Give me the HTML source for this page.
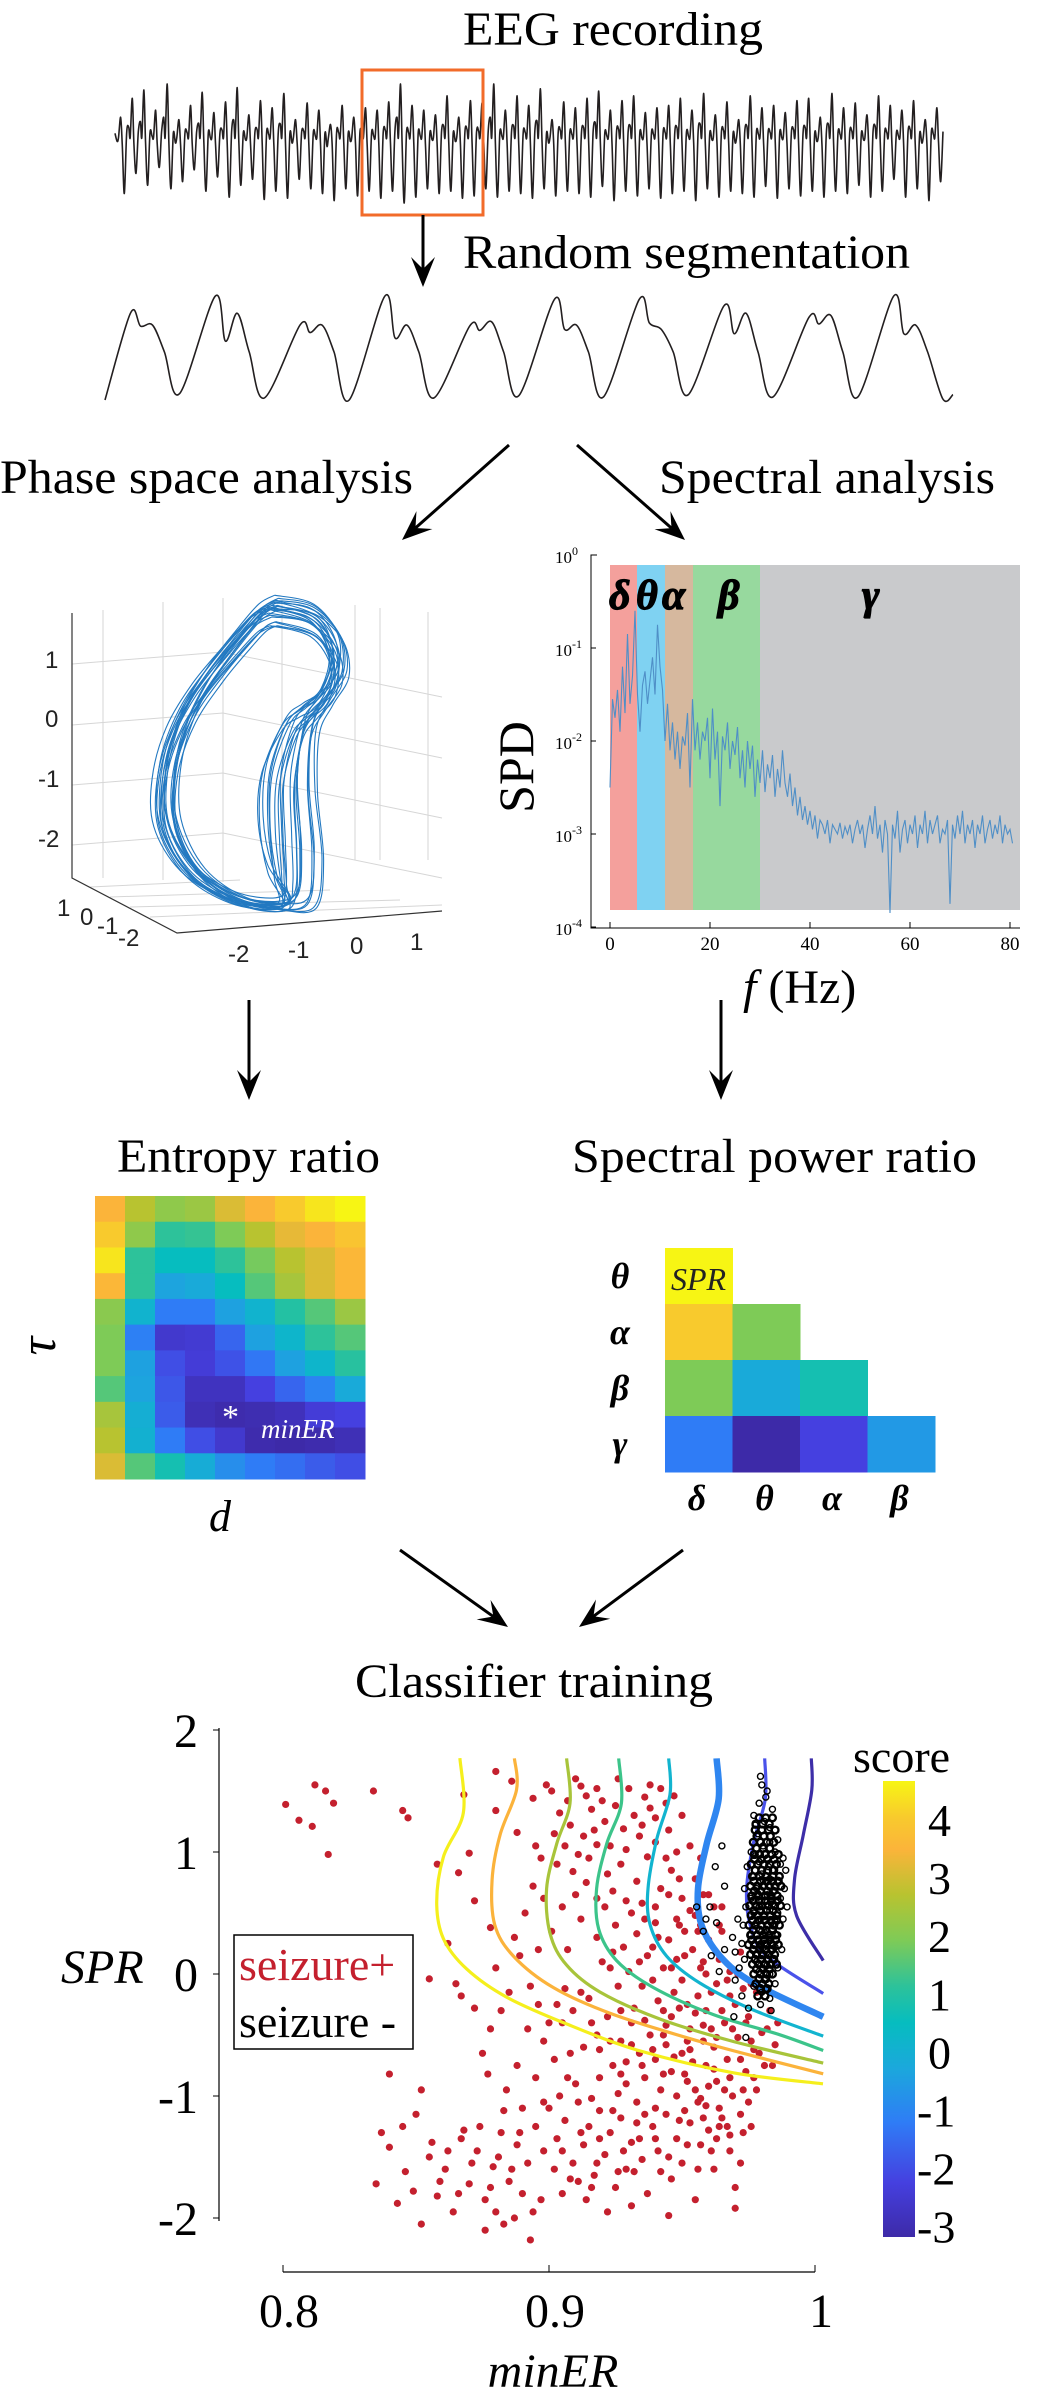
<!DOCTYPE html>
<html><head><meta charset="utf-8">
<style>
html,body{margin:0;padding:0;background:#fff;}
svg{display:block;font-family:"Liberation Serif",serif;}
</style></head>
<body>
<svg id="fig" width="1041" height="2401" viewBox="0 0 1041 2401" xmlns="http://www.w3.org/2000/svg">
<defs>
<linearGradient id="cbgrad" x1="0" y1="1" x2="0" y2="0">
<stop offset="0" stop-color="#3d2aa8"/><stop offset="0.12" stop-color="#4540e0"/><stop offset="0.25" stop-color="#2f7cf6"/><stop offset="0.37" stop-color="#1ba8dc"/><stop offset="0.47" stop-color="#06bdbf"/><stop offset="0.55" stop-color="#2dc29a"/><stop offset="0.65" stop-color="#7ecb57"/><stop offset="0.75" stop-color="#b8c330"/><stop offset="0.85" stop-color="#fbb43a"/><stop offset="0.92" stop-color="#f8ca2d"/><stop offset="1" stop-color="#f7f514"/>
</linearGradient>
</defs>

<text x="463" y="45" font-size="48" textLength="300" lengthAdjust="spacingAndGlyphs">EEG recording</text>
<g id="eeg"></g>
<rect x="362" y="70" width="121" height="145" fill="none" stroke="#f26b2a" stroke-width="3"/>
<text x="463" y="268" font-size="48" textLength="447" lengthAdjust="spacingAndGlyphs">Random segmentation</text>
<g id="seg"></g>
<text x="0" y="493" font-size="48" textLength="413" lengthAdjust="spacingAndGlyphs">Phase space analysis</text>
<text x="659" y="493" font-size="48" textLength="336" lengthAdjust="spacingAndGlyphs">Spectral analysis</text>

<g id="phase"></g>
<g id="spec"></g>

<text x="117" y="1172" font-size="48" textLength="263" lengthAdjust="spacingAndGlyphs">Entropy ratio</text>
<text x="572" y="1172" font-size="48" textLength="405" lengthAdjust="spacingAndGlyphs">Spectral power ratio</text>
<g id="er"></g>
<g id="spr"></g>

<text x="355" y="1697" font-size="48" textLength="358" lengthAdjust="spacingAndGlyphs">Classifier training</text>
<g id="cls"></g>
<g id="arrows"></g>
</svg>

<script>
// ===== DATA =====
const eegPeaks=[0.72,0.88,0.95,0.78,1.0,0.7,0.82,0.93,0.76,0.85,0.97,0.74,0.86,0.8,0.92,0.7,0.84,0.78,0.66,0.82,0.72,0.8,0.78,0.85,1.0,0.82,0.78,0.74,0.9,0.72,0.86,0.84,1.0,0.78,0.9,0.82,0.96,0.7,0.85,0.8,0.88,0.94,0.78,0.86,0.9,0.76,0.8,0.82,0.88,0.78,0.92,0.74,0.85,0.7,0.9,0.8,0.82,0.76,0.86,0.88,0.72,0.92,0.8,0.84,0.74,0.9,0.82,0.78,0.86,0.7,0.8];
const eegTroughs=[0.08,0.25,0.15,0.3,0.12,0.18,0.28,0.1,0.22,0.05,0.15,0.2,0.03,0.1,0.04,0.2,0.12,0.08,0.02,0.12,0.06,0.1,0.04,0.1,0.0,0.05,0.12,0.08,0.1,0.04,0.06,0.12,0.05,0.1,0.08,0.04,0.12,0.06,0.1,0.08,0.05,0.14,0.02,0.1,0.06,0.12,0.04,0.08,0.1,0.02,0.12,0.05,0.1,0.08,0.05,0.14,0.04,0.12,0.06,0.1,0.05,0.1,0.08,0.15,0.05,0.1,0.2,0.05,0.12,0.02,0.18];
const segPeak1=[0.81,0.97,0.70,0.97,0.69,0.94,0.94,0.88,0.77,0.97];
const segDip=[0.69,0.55,0.63,0.58,0.65,0.66,0.72,0.62,0.71,0.62];
const segPeak2=[0.70,0.81,0.70,0.70,0.73,0.70,0.66,0.81,0.79,0.70];
const segTrough=[0.06,0.02,0.0,0.02,0.04,0.03,0.05,0.03,0.03,0.01];

const spdStep=0.5;
const spdLog=[-2.5,-1.55,-1.75,-1.45,-1.9,-1.2,-1.7,-0.85,-1.6,-1.3,-0.6,-1.5,-1.9,-1.4,-1.25,-1.6,-1.35,-1.1,-1.5,-0.75,-1.2,-1.45,-2.0,-1.6,-2.1,-1.8,-2.2,-1.9,-2.3,-1.95,-2.05,-1.7,-2.5,-1.55,-2.1,-1.8,-2.2,-1.9,-2.0,-1.75,-2.4,-1.65,-2.2,-1.9,-2.7,-1.95,-2.1,-1.8,-2.3,-2.0,-2.15,-1.85,-2.4,-2.1,-2.5,-2.0,-2.3,-2.05,-2.6,-2.2,-2.45,-2.1,-2.55,-2.25,-2.4,-2.15,-2.6,-2.3,-2.5,-2.1,-2.45,-2.6,-2.35,-2.7,-2.5,-2.8,-2.6,-2.85,-2.7,-2.9,-2.75,-2.95,-2.8,-3.05,-2.85,-2.9,-3.0,-2.85,-3.1,-2.9,-2.95,-3.0,-2.88,-3.05,-2.92,-3.0,-2.9,-3.1,-2.95,-2.85,-3.0,-2.9,-3.15,-2.95,-2.8,-3.0,-2.7,-3.05,-2.9,-3.2,-2.85,-3.0,-3.85,-2.9,-3.05,-2.75,-3.2,-2.95,-2.85,-3.1,-2.9,-3.0,-2.8,-3.15,-2.9,-3.0,-2.75,-3.1,-2.85,-3.0,-2.9,-2.8,-3.1,-2.95,-3.0,-2.85,-3.75,-2.9,-3.05,-2.8,-3.0,-2.75,-3.1,-2.9,-3.0,-2.85,-3.15,-2.9,-3.0,-2.8,-3.1,-2.95,-2.85,-3.05,-2.9,-3.0,-2.8,-3.1,-2.9,-3.0,-2.95,-3.1];
const bandEdges=[0,5.4,11,16.6,30,82];
const bandColors=["#f4a09c","#7fd2f2","#d6b89e","#97d99e","#c9cacc"];
const bandLabels=["δ","θ","α","β","γ"];
const specYTicks=[0,-1,-2,-3,-4];
const specXTicks=[0,20,40,60,80];

const erValues=[
[.85,.75,.68,.70,.80,.85,.92,.97,1.0],
[.92,.68,.55,.56,.65,.75,.82,.85,.90],
[.97,.55,.47,.47,.55,.64,.75,.80,.86],
[.86,.55,.36,.38,.47,.60,.72,.80,.86],
[.67,.42,.25,.25,.35,.42,.53,.60,.70],
[.65,.26,.08,.09,.20,.35,.43,.55,.60],
[.65,.35,.15,.10,.16,.24,.35,.43,.54],
[.60,.36,.17,.05,.05,.12,.20,.27,.38],
[.72,.40,.18,.03,.01,.02,.04,.10,.12],
[.75,.41,.25,.15,.08,.01,.00,.01,.03],
[.80,.60,.50,.39,.30,.25,.22,.18,.15]];
const sprRows=["θ","α","β","γ"];
const sprCols=["δ","θ","α","β"];
const sprValues=[[1.0],[.92,.65],[.65,.38,.5],[.25,0,.12,.33]];

const contourLevels=[4,3,2,1,0,-1,-2,-3];
const contourColors=["#f5ef1c","#fbb33b","#a8c43a","#3cc48a","#12b4cf","#2f86f0","#4a52ea","#3d2ea8"];
const contourER=[
[0.8665,0.8678,0.8603,0.8578,0.8603,0.8691,0.8841,0.9067,0.9342,0.9693,1.003],
[0.887,0.8878,0.8816,0.8786,0.8796,0.8866,0.9016,0.9242,0.9567,0.9818,1.0031],
[0.9066,0.9079,0.9029,0.8991,0.9004,0.9066,0.9192,0.9417,0.9693,1.0031],
[0.9262,0.9272,0.9217,0.9179,0.9187,0.9254,0.9392,0.9617,0.9868,1.0031],
[0.945,0.9455,0.9405,0.9372,0.938,0.9442,0.9567,0.9768,1.0031],
[0.963,0.9638,0.9593,0.956,0.9573,0.9643,0.9768,1.0031],
[0.9811,0.9813,0.9768,0.9743,0.9756,0.9818,1.0031],
[0.9986,0.9988,0.9956,0.9923,0.9931,1.0031]];
const contourSPR=[
[1.77,1.32,0.96,0.59,0.29,0.04,-0.19,-0.41,-0.63,-0.81,-0.90],
[1.767,1.509,1.141,0.773,0.404,0.147,-0.111,-0.332,-0.553,-0.700,-0.818],
[1.767,1.399,1.067,0.699,0.331,0.073,-0.148,-0.369,-0.553,-0.730],
[1.767,1.399,1.067,0.699,0.368,0.110,-0.111,-0.332,-0.498,-0.627],
[1.767,1.472,1.104,0.699,0.404,0.147,-0.074,-0.295,-0.509],
[1.767,1.436,1.067,0.699,0.404,0.147,-0.074,-0.351],
[1.767,1.436,1.067,0.699,0.404,0.147,-0.16],
[1.767,1.509,1.141,0.773,0.478,0.11]];

const seizurePos=[[0.801,1.39],[0.806,1.26],[0.811,1.21],[0.812,1.55],[0.816,1.5],[0.819,1.40],[0.817,0.98],[0.834,1.50],[0.845,1.34],[0.847,1.28],
[0.880,1.66],[0.886,1.58],[0.868,1.47],[0.880,1.34],[0.888,1.16],[0.895,1.05],[0.894,1.44],[0.899,1.55],[0.901,1.50],[0.904,1.32],[0.907,1.42],[0.908,1.22],[0.912,1.54],[0.914,1.46],[0.913,1.13],[0.916,1.35],[0.918,1.06],[0.920,1.42],[0.921,1.25],[0.925,1.38],[0.928,1.19],[0.930,1.52],[0.932,1.30],[0.934,1.13],[0.936,1.45],[0.938,1.36],[0.940,1.28],[0.942,1.52],[0.944,1.40],[0.947,1.46],[0.903,0.90],[0.897,0.95],[0.909,0.84],[0.915,0.95],[0.922,0.82],[0.927,0.90],[0.933,0.76],[0.937,0.96],[0.942,0.70],[0.946,0.85],[0.950,0.62],[0.955,0.78],[0.958,0.65],[0.962,0.55],[0.894,0.72],[0.898,0.62],[0.891,0.50],[0.905,0.55],[0.872,0.60],[0.878,0.38],[0.862,0.25],[0.866,0.83],[0.858,0.90],[0.870,0.99],[0.887,0.30],[0.880,0.05],[0.867,-0.18],[0.865,-0.08],[0.855,-0.04],[0.875,-0.65],[0.878,-0.45],[0.872,-0.28],
[0.912,0.45],[0.918,0.30],[0.920,0.10],[0.925,0.40],[0.928,0.22],[0.930,0.02],[0.933,0.33],[0.935,-0.10],[0.937,0.15],[0.940,0.42],[0.941,-0.22],[0.943,0.05],[0.945,0.28],[0.946,-0.35],[0.948,0.12],[0.950,-0.05],[0.951,0.35],[0.953,-0.45],[0.954,0.20],[0.956,-0.18],[0.957,0.05],[0.959,-0.30],[0.960,0.28],[0.962,-0.60],[0.963,-0.08],[0.964,0.12],[0.966,-0.40],[0.967,-0.70],[0.968,0.02],[0.970,-0.25],[0.971,-0.52],[0.973,-0.12],[0.974,-0.80],[0.975,-0.35],[0.977,-0.62],[0.978,-0.15],[0.980,-0.48],[0.981,-0.75],[0.983,-0.30],[0.985,-0.58],
[0.915,-0.20],[0.918,-0.50],[0.922,-0.35],[0.924,-0.75],[0.927,-0.55],[0.929,-0.90],[0.931,-0.40],[0.934,-0.65],[0.936,-0.85],[0.938,-0.50],[0.940,-0.70],[0.942,-0.95],[0.944,-0.58],[0.946,-0.80],[0.948,-1.00],[0.950,-0.65],[0.952,-0.88],[0.954,-0.72],[0.956,-1.05],[0.958,-0.55],[0.960,-0.92],[0.962,-0.78],[0.964,-1.10],[0.966,-0.95],[0.969,-1.00],[0.972,-1.15],[0.975,-1.05],[0.978,-0.95],
[0.905,-0.40],[0.908,-0.65],[0.910,-0.90],[0.912,-0.15],[0.902,-0.70],[0.898,-0.55],[0.895,-0.85],[0.892,-0.45],[0.888,-0.75],[0.884,-0.95],
[0.926,-0.10],[0.932,-0.28],[0.939,0.22],[0.944,-0.42],[0.949,0.40],[0.952,-0.25],[0.955,0.48],[0.961,-0.45],[0.965,0.35],[0.968,-0.18],[0.972,0.18],[0.976,-0.08],[0.958,0.10],[0.947,-0.15],[0.936,-0.38],[0.923,0.05],[0.919,-0.62],[0.929,-0.72],[0.943,-0.30],[0.953,-0.62],
[0.900,-1.10],[0.903,-1.35],[0.906,-1.20],[0.909,-1.55],[0.911,-1.05],[0.913,-1.40],[0.915,-1.25],[0.917,-1.65],[0.919,-1.12],[0.921,-1.48],[0.923,-1.30],[0.925,-1.75],[0.927,-1.18],[0.929,-1.60],[0.931,-1.38],[0.933,-1.05],[0.935,-1.52],[0.937,-1.80],[0.939,-1.25],[0.941,-1.45],[0.944,-1.15],[0.946,-1.68],[0.948,-1.35],[0.950,-1.55],[0.953,-1.22],[0.955,-1.85],[0.957,-1.40],[0.960,-1.28],[0.962,-1.60],[0.965,-1.18],[0.968,-1.45],[0.970,-1.75],[0.973,-1.30],[0.976,-1.25],[0.970,-1.92],
[0.895,-1.25],[0.892,-1.55],[0.888,-1.40],[0.885,-1.70],[0.882,-1.30],[0.879,-1.58],[0.876,-1.85],[0.873,-1.45],[0.870,-1.72],[0.867,-1.35],[0.864,-1.95],[0.861,-1.60],[0.858,-1.82],[0.855,-1.50],[0.852,-2.05],[0.849,-1.78],[0.846,-1.62],[0.843,-1.88],[0.840,-1.42],[0.837,-1.30],[0.835,-1.72],[0.845,-1.25],[0.850,-1.15],[0.856,-1.38],[0.868,-1.28],[0.876,-2.10],[0.883,-2.05],[0.887,-2.00],[0.893,-2.18],[0.897,-1.85],[0.890,-1.80],[0.880,-1.95],[0.898,-1.05],[0.852,-0.95],[0.840,-0.82],[0.877,-0.82],[0.883,-1.12],[0.890,-1.10],[0.905,-1.80],[0.914,-1.85],[0.922,-1.95],[0.945,-1.98],
[0.904,-1.00],[0.907,-0.85],[0.916,-1.02],[0.926,-0.98],[0.933,-1.22],[0.940,-1.10],[0.951,-1.12],[0.958,-1.18],[0.963,-0.88],[0.911,-1.70],[0.919,-1.35],[0.934,-1.35],[0.942,-1.62],[0.957,-1.02],[0.961,-1.45]];
const seizurePosExtra=[[0.921,0.55],[0.924,0.18],[0.927,-0.30],[0.931,0.50],[0.934,0.10],[0.936,0.45],[0.939,-0.05],[0.941,0.30],[0.943,-0.50],[0.946,0.05],[0.948,0.45],[0.949,-0.28],[0.951,0.15],[0.952,-0.55],[0.955,-0.32],[0.956,0.35],[0.958,-0.42],[0.959,0.00],[0.961,-0.15],[0.963,-0.52],[0.964,0.40],[0.965,-0.30],[0.967,-0.05],[0.968,-0.85],[0.969,-0.45],[0.971,0.00],[0.972,-0.70],[0.974,-0.40],[0.976,-0.55],[0.977,-0.85],[0.979,-0.65],[0.982,-0.45],[0.984,-0.75],[0.986,-0.40],[0.973,-0.95],[0.967,-1.25],[0.963,-1.35],[0.959,-0.75],[0.955,-0.95],[0.951,-0.82],[0.947,-0.68],[0.943,-0.82],[0.939,-0.62],[0.935,-0.75],[0.931,-0.58],[0.927,-0.82],[0.923,-0.55],[0.919,-0.85],[0.916,-0.40],[0.913,-0.60],[0.909,-0.30],[0.906,-0.12],[0.903,-0.25],[0.900,-0.40],[0.896,-0.25],[0.893,-0.10],[0.889,0.15],[0.885,-0.15],[0.882,-0.30],[0.896,0.20],[0.901,0.35],[0.907,0.20],[0.910,0.65],[0.914,0.75],[0.918,0.62],[0.924,0.68],[0.929,0.60],[0.935,0.58],[0.940,0.55],[0.945,0.65],[0.949,0.78],[0.953,0.52],[0.957,0.40],[0.960,0.65],[0.965,0.55],[0.902,1.15],[0.906,1.05],[0.911,0.98],[0.917,1.18],[0.923,1.05],[0.929,1.02],[0.935,1.22],[0.940,1.08],[0.945,1.18],[0.950,1.30],[0.953,1.05],[0.957,0.95],[0.926,1.60],[0.938,1.55],[0.910,1.60],[0.918,1.52],[0.944,0.95],[0.948,1.00],
[0.905,-1.45],[0.912,-1.30],[0.918,-1.55],[0.924,-1.12],[0.928,-1.45],[0.932,-1.62],[0.936,-1.15],[0.940,-1.35],[0.945,-1.50],[0.949,-1.20],[0.952,-1.40],[0.956,-1.60],[0.959,-1.08],[0.964,-1.25],[0.968,-1.32],[0.972,-1.55],[0.908,-1.68],[0.916,-1.75],[0.926,-1.62],[0.931,-1.90],[0.902,-1.60],[0.898,-1.45],[0.894,-1.95],[0.886,-1.60],[0.878,-1.75],[0.871,-1.55],[0.866,-1.80],[0.862,-1.45],[0.859,-1.70],[0.874,-1.25],[0.881,-1.50],[0.889,-1.30]];

const seizureNeg=[[0.9800,1.55],[0.9790,1.40],[0.9820,1.50],[0.9770,1.30],[0.9840,1.35],[0.9810,1.25],[0.9830,1.20],[0.9785,1.15],[0.9860,1.10],[0.9805,1.05],[0.9760,1.00],[0.9850,1.00],[0.9820,0.95],[0.9790,0.92],[0.9870,0.90],[0.9840,0.85],[0.9800,0.82],[0.9770,0.80],[0.9830,0.78],[0.9860,0.75],[0.9810,0.72],[0.9780,0.70],[0.9850,0.68],[0.9820,0.65],[0.9760,0.62],[0.9870,0.62],[0.9800,0.60],[0.9840,0.57],[0.9790,0.55],[0.9830,0.52],[0.9860,0.50],[0.9770,0.50],[0.9810,0.47],[0.9850,0.45],[0.9780,0.42],[0.9820,0.40],[0.9840,0.37],[0.9800,0.35],[0.9760,0.32],[0.9860,0.32],[0.9830,0.30],[0.9790,0.27],[0.9810,0.25],[0.9850,0.22],[0.9770,0.20],[0.9820,0.18],[0.9800,0.15],[0.9840,0.12],[0.9780,0.10],[0.9820,0.07],[0.9860,0.05],[0.9790,0.02],[0.9830,0.00],[0.9810,-0.05],[0.9850,-0.08],[0.9770,-0.10],[0.9800,-0.15],[0.9830,-0.20],
[0.9745,0.88],[0.9735,0.70],[0.9740,0.55],[0.9730,0.40],[0.9725,0.25],[0.9735,0.12],[0.9715,0.05],[0.9700,0.18],[0.9690,0.30],[0.9710,0.45],[0.9880,0.95],[0.9885,0.70],[0.9880,0.45],[0.9875,0.20],[0.9890,0.85],[0.9895,0.55],
[0.9650,1.05],[0.9625,0.88],[0.9660,0.72],[0.9605,0.55],[0.9630,0.42],[0.9580,0.35],[0.9660,0.20],[0.9610,0.15],[0.9640,0.02],[0.9700,-0.05],[0.9725,-0.18],[0.9750,-0.28],[0.9695,-0.35],[0.9740,-0.52],[0.9590,0.45],[0.9555,0.55],
[0.9795,1.62],[0.9815,1.45],[0.9775,1.22],[0.9830,1.08],[0.9795,0.98],[0.9825,0.88],[0.9805,0.77],[0.9785,0.66],[0.9835,0.62],[0.9815,0.56],[0.9795,0.45],[0.9835,0.42],[0.9810,0.34],[0.9790,0.22],[0.9825,0.12],[0.9800,0.05],[0.9815,-0.12],[0.9795,-0.25],[0.9835,-0.30]];
const seizureNegCore=[[0.9790,1.28],[0.9815,1.28],[0.9840,1.28],[0.9775,1.18],[0.9800,1.18],[0.9825,1.18],[0.9850,1.18],[0.9768,1.08],[0.9795,1.08],[0.9818,1.08],[0.9845,1.08],[0.9772,0.98],[0.9790,0.98],[0.9812,0.98],[0.9838,0.98],[0.9862,0.98],[0.9760,0.90],[0.9785,0.90],[0.9808,0.90],[0.9830,0.90],[0.9855,0.90],[0.9765,0.80],[0.9792,0.80],[0.9815,0.80],[0.9842,0.80],[0.9866,0.80],[0.9758,0.72],[0.9782,0.72],[0.9805,0.72],[0.9828,0.72],[0.9850,0.72],[0.9872,0.72],[0.9762,0.64],[0.9788,0.64],[0.9812,0.64],[0.9835,0.64],[0.9858,0.64],[0.9755,0.56],[0.9778,0.56],[0.9800,0.56],[0.9825,0.56],[0.9848,0.56],[0.9870,0.56],[0.9760,0.48],[0.9785,0.48],[0.9808,0.48],[0.9832,0.48],[0.9856,0.48],[0.9752,0.40],[0.9775,0.40],[0.9798,0.40],[0.9822,0.40],[0.9845,0.40],[0.9866,0.40],[0.9758,0.32],[0.9782,0.32],[0.9805,0.32],[0.9828,0.32],[0.9852,0.32],[0.9750,0.24],[0.9772,0.24],[0.9795,0.24],[0.9818,0.24],[0.9840,0.24],[0.9862,0.24],[0.9758,0.16],[0.9780,0.16],[0.9803,0.16],[0.9826,0.16],[0.9848,0.16],[0.9765,0.08],[0.9788,0.08],[0.9810,0.08],[0.9833,0.08],[0.9855,0.08],[0.9770,0.00],[0.9795,0.00],[0.9818,0.00],[0.9840,0.00],[0.9778,-0.08],[0.9802,-0.08],[0.9826,-0.08],[0.9785,-0.18],[0.9812,-0.18],
[0.9778,1.23],[0.9803,1.23],[0.9828,1.23],[0.9782,1.13],[0.9808,1.13],[0.9832,1.13],[0.9780,1.03],[0.9805,1.03],[0.9830,1.03],[0.9773,0.94],[0.9798,0.94],[0.9822,0.94],[0.9846,0.94],[0.9775,0.85],[0.9800,0.85],[0.9822,0.85],[0.9845,0.85],[0.9770,0.76],[0.9795,0.76],[0.9818,0.76],[0.9840,0.76],[0.9862,0.76],[0.9772,0.68],[0.9796,0.68],[0.9820,0.68],[0.9843,0.68],[0.9768,0.60],[0.9790,0.60],[0.9813,0.60],[0.9836,0.60],[0.9859,0.60],[0.9770,0.52],[0.9795,0.52],[0.9818,0.52],[0.9842,0.52],[0.9765,0.44],[0.9788,0.44],[0.9810,0.44],[0.9834,0.44],[0.9856,0.44],[0.9768,0.36],[0.9792,0.36],[0.9816,0.36],[0.9840,0.36],[0.9762,0.28],[0.9785,0.28],[0.9808,0.28],[0.9830,0.28],[0.9852,0.28],[0.9768,0.20],[0.9792,0.20],[0.9815,0.20],[0.9838,0.20],[0.9775,0.12],[0.9798,0.12],[0.9822,0.12],[0.9845,0.12],[0.9780,0.04],[0.9805,0.04],[0.9828,0.04],[0.9790,-0.04],[0.9815,-0.04],[0.9795,-0.12],[0.9820,-0.12]];

const clsYTicks=[2,1,0,-1,-2];
const clsXTicks=[0.8,0.9,1.0];
const cbTicks=[4,3,2,1,0,-1,-2,-3];

const phaseLoops=[[0,0,0,1,1],[0.15,3,-4,0.98,1.0],[0.3,-4,5,1.02,0.97],[0.45,5,2,0.96,1.02],[0.6,-2,-6,1.0,0.98],[0.75,2,6,0.97,0.96],[0.9,-5,0,1.03,1.01],[1,0,3,0.99,0.95],[0.2,6,-2,0.94,1.03],[0.5,-6,4,1.04,0.99],[0.35,1,-8,1.0,1.02],[0.65,4,8,0.95,0.94],[0.8,-3,-3,1.01,1.0],[0.1,-1,7,0.99,0.96],[0.55,7,-5,0.93,1.01],[0.25,-7,1,1.05,0.98],[0.85,3,-1,0.97,1.03],[0.4,0,9,1.0,0.93],[0.7,-8,-2,1.03,1.0],[0.05,8,4,0.95,0.99],[0.95,2,-7,0.98,1.02],[0.6,-4,10,1.0,0.95]];

// ===== HELPERS =====
const NS="http://www.w3.org/2000/svg";
function mk(parent,tag,attrs){const e=document.createElementNS(NS,tag);for(const k in attrs)e.setAttribute(k,attrs[k]);parent.appendChild(e);return e;}
function smooth(pts){let d="M"+pts[0][0].toFixed(1)+","+pts[0][1].toFixed(1);for(let i=0;i<pts.length-1;i++){const p0=pts[i-1]||pts[i],p1=pts[i],p2=pts[i+1],p3=pts[i+2]||p2;const c1=[p1[0]+(p2[0]-p0[0])/6,p1[1]+(p2[1]-p0[1])/6],c2=[p2[0]-(p3[0]-p1[0])/6,p2[1]-(p3[1]-p1[1])/6];d+="C"+c1[0].toFixed(1)+","+c1[1].toFixed(1)+" "+c2[0].toFixed(1)+","+c2[1].toFixed(1)+" "+p2[0].toFixed(1)+","+p2[1].toFixed(1);}return d;}
const cmStops=[[0,"#3d2aa8"],[0.12,"#4540e0"],[0.25,"#2f7cf6"],[0.37,"#1ba8dc"],[0.47,"#06bdbf"],[0.55,"#2dc29a"],[0.65,"#7ecb57"],[0.75,"#b8c330"],[0.85,"#fbb43a"],[0.92,"#f8ca2d"],[1,"#f7f514"]];
function hx(h){return [parseInt(h.slice(1,3),16),parseInt(h.slice(3,5),16),parseInt(h.slice(5,7),16)];}
function cmap(v){v=Math.max(0,Math.min(1,v));for(let i=0;i<cmStops.length-1;i++){const a=cmStops[i],b=cmStops[i+1];if(v<=b[0]){const t=(v-a[0])/(b[0]-a[0]);const A=hx(a[1]),B=hx(b[1]);return "rgb("+A.map((x,j)=>Math.round(x+(B[j]-x)*t)).join(",")+")";}}return cmStops[cmStops.length-1][1];}

// ===== EEG TRACE =====
(function(){const g=document.getElementById('eeg');const x0=115,x1=943,top=84,bot=203;const n=eegPeaks.length;const w=(x1-x0)/n;const pts=[];const Y=v=>bot-(bot-top)*v;
for(let i=0;i<n;i++){const pk=eegPeaks[i],tr=eegTroughs[i];const xs=x0+i*w;
pts.push([xs,Y(0.55+pk*0.05)]);pts.push([xs+w*0.18,Y(pk*0.72)]);pts.push([xs+w*0.3,Y(0.55)]);pts.push([xs+w*0.48,Y(pk)]);pts.push([xs+w*0.62,Y(0.5)]);pts.push([xs+w*0.8,Y(tr)]);}
pts.push([x1,Y(0.6)]);
const p=mk(g,'path',{d:smooth(pts),fill:'none',stroke:'#231f20','stroke-width':1.6});

})();

// ===== SEGMENT TRACE =====
(function(){const g=document.getElementById('seg');const x0=105,x1=953,top=293,bot=400;const n=segPeak1.length;const w=(x1-x0)/n;const Y=v=>bot-(bot-top)*v;const pts=[[x0,Y(0.0)]];
for(let i=0;i<n;i++){const xs=x0+i*w;pts.push([xs+w*0.3,Y(segPeak1[i])]);pts.push([xs+w*0.42,Y(segDip[i])]);pts.push([xs+w*0.56,Y(segPeak2[i])]);pts.push([xs+w*0.7,Y(0.45)]);pts.push([xs+w*0.88,Y(segTrough[i])]);}
pts.push([x1,Y(0.05)]);
const p=mk(g,'path',{d:smooth(pts),fill:'none',stroke:'#231f20','stroke-width':1.6});

})();

// ===== PHASE SPACE =====
(function(){const g=document.getElementById('phase');const gc='#d6d6d6';
[[103,610,878],[163,602,880],[223,598,882],[282,600,870],[355,605,860],[380,608,860],[428,612,860]].forEach(l=>{const e=mk(g,'line',{x1:l[0],y1:l[1],x2:l[0],y2:l[2],stroke:gc,'stroke-width':1});});
[664,725,785,845].forEach(y=>{const e=mk(g,'polyline',{points:`72,${y} 223,${y-12} 442,${y+33}`,fill:'none',stroke:gc,'stroke-width':1});});
[[90,887,240,880],[110,897,330,890],[130,907,400,900],[150,917,442,905]].forEach(l=>{const e=mk(g,'line',{x1:l[0],y1:l[1],x2:l[2],y2:l[3],stroke:gc,'stroke-width':1});});
const ax=mk(g,'polyline',{points:'72,613 72,878 177,933 442,911',fill:'none',stroke:'#333','stroke-width':1.2});

const tl=[["1",45,668],["0",45,727],["-1",38,787],["-2",38,847]];
tl.forEach(t=>{const e=mk(g,'text',{x:t[1],y:t[2],'font-size':24,'font-family':'Liberation Sans, sans-serif',fill:'#222'});e.textContent=t[0];});
[["1",57,916],["0",80,925],["-1",97,934],["-2",118,946]].forEach(t=>{const e=mk(g,'text',{x:t[1],y:t[2],'font-size':24,'font-family':'Liberation Sans, sans-serif',fill:'#222'});e.textContent=t[0];});
[["-2",228,962],["-1",288,958],["0",350,954],["1",410,950]].forEach(t=>{const e=mk(g,'text',{x:t[1],y:t[2],'font-size':24,'font-family':'Liberation Sans, sans-serif',fill:'#222'});e.textContent=t[0];});
const outer=[[273,603],[310,608],[340,635],[347,670],[330,700],[316,730],[315,790],[322,860],[313,908],[270,907],[228,898],[188,872],[163,830],[160,785],[170,735],[192,690],[222,650],[252,615],[273,603]];
const inner=[[275,612],[318,628],[332,665],[318,700],[300,712],[283,725],[262,770],[258,820],[268,868],[290,905],[245,903],[198,872],[172,818],[175,755],[198,700],[232,655],[258,625],[268,615],[275,612]];
phaseLoops.forEach(L=>{const [t,dx,dy,sx,sy]=L;const pts=outer.map((p,i)=>{const q=inner[i]||p;const x=p[0]+(q[0]-p[0])*t,y=p[1]+(q[1]-p[1])*t;return [255+(x-255)*sx+dx,755+(y-755)*sy+dy];});
const e=mk(g,'path',{d:smooth(pts),fill:'none',stroke:'#2379c1','stroke-width':1.1,'stroke-linejoin':'round'});

});
})();

// ===== SPECTRUM =====
(function(){const g=document.getElementById('spec');const X=f=>610+f*5;
const yy=l=>555+(-l)*93;
bandEdges.slice(0,-1).forEach((e,i)=>{const r=mk(g,'rect',{x:X(e),y:565,width:X(bandEdges[i+1])-X(e),height:345,fill:bandColors[i]});});
const lx=[[609,609],[636,609],[662,609],[718,609],[862,609]];
bandLabels.forEach((b,i)=>{const t=mk(g,'text',{x:lx[i][0],y:lx[i][1],'font-size':42,'font-weight':'bold','font-style':'italic',fill:'#000',stroke:'#000','stroke-width':1.2});t.textContent=b;});
const pts=spdLog.map((v,i)=>[X(i*spdStep),yy(v)]);
const ln=mk(g,'polyline',{points:pts.map(p=>p[0].toFixed(1)+","+p[1].toFixed(1)).join(" "),fill:'none',stroke:'#4f8fc7','stroke-width':1.1});

const ax=mk(g,'polyline',{points:'597,555 591,555 591,928 597,928',fill:'none',stroke:'#000','stroke-width':1});

const xa=mk(g,'line',{x1:591,y1:928,x2:1020,y2:928,stroke:'#000','stroke-width':1});
specYTicks.forEach(l=>{const tk=mk(g,'line',{x1:591,y1:yy(l),x2:596,y2:yy(l),stroke:'#000'});
const t=mk(g,'text',{x:555,y:yy(l)+8,'font-size':17});t.innerHTML='10<tspan dy="-8" font-size="12">'+(l===0?'0':l)+'</tspan>';});
specXTicks.forEach(f=>{const tk=mk(g,'line',{x1:X(f),y1:928,x2:X(f),y2:922,stroke:'#000'});
const t=mk(g,'text',{x:X(f),y:950,'font-size':19,'text-anchor':'middle'});t.textContent=f;});
const yl=mk(g,'text',{x:0,y:0,'font-size':50,'text-anchor':'middle',transform:'translate(533,767) rotate(-90)'});yl.textContent='SPD';
const xl=mk(g,'text',{x:743,y:1003,'font-size':48});xl.innerHTML='<tspan font-style="italic">f</tspan> (Hz)';
})();

// ===== ENTROPY RATIO HEATMAP =====
(function(){const g=document.getElementById('er');const x0=95,y0=1196,cw=30,ch=283/11;
erValues.forEach((row,r)=>row.forEach((v,c)=>{const e=mk(g,'rect',{x:x0+c*cw,y:y0+r*ch,width:cw+0.5,height:ch+0.5,fill:cmap(v)});}));
const s=mk(g,'text',{x:222,y:1428,'font-size':34,fill:'#fff'});s.textContent='*';
const m=mk(g,'text',{x:261,y:1438,'font-size':27,'font-style':'italic',fill:'#fff'});m.textContent='minER';
const tau=mk(g,'text',{x:0,y:0,'font-size':52,'font-style':'italic','text-anchor':'middle',transform:'translate(55,1346) rotate(-90)'});tau.textContent='τ';
const d=mk(g,'text',{x:220,y:1531,'font-size':44,'font-style':'italic','text-anchor':'middle'});d.textContent='d';
})();

// ===== SPR MATRIX =====
(function(){const g=document.getElementById('spr');const x0=665,y0=1248,cw=67.5,ch=56;
sprValues.forEach((row,r)=>row.forEach((v,c)=>{const e=mk(g,'rect',{x:x0+c*cw,y:y0+r*ch,width:cw+0.5,height:ch+0.5,fill:cmap(v)});}));
const t=mk(g,'text',{x:671,y:1290,'font-size':32,'font-style':'italic',fill:'#222'});t.textContent='SPR';
sprRows.forEach((l,i)=>{const e=mk(g,'text',{x:620,y:y0+i*ch+40,'font-size':36,'font-weight':'bold','font-style':'italic','text-anchor':'middle'});e.textContent=l;});
sprCols.forEach((l,i)=>{const e=mk(g,'text',{x:x0+i*cw+32,y:1510,'font-size':36,'font-weight':'bold','font-style':'italic','text-anchor':'middle'});e.textContent=l;});
})();

// ===== CLASSIFIER PLOT =====
(function(){const g=document.getElementById('cls');const X=v=>283+(v-0.8)*2660,Y=v=>1974-v*122;
seizurePos.concat(seizurePosExtra).forEach(p=>{const c=mk(g,'circle',{cx:X(p[0]),cy:Y(p[1]),r:3.6,fill:'#c4202e'});});
contourLevels.forEach((lv,i)=>{const pts=contourER[i].map((e,j)=>[X(e),Y(contourSPR[i][j])]);
const p=mk(g,'path',{d:smooth(pts),fill:'none',stroke:contourColors[i],'stroke-width':lv===-1?6.5:3.2});

});
seizureNeg.forEach(p=>{const c=mk(g,'circle',{cx:X(p[0]),cy:Y(p[1]),r:3,fill:'none',stroke:'#000','stroke-width':1.4});});
seizureNegCore.forEach(p=>{const c=mk(g,'circle',{cx:X(p[0]),cy:Y(p[1]),r:3.4,fill:'none',stroke:'#000','stroke-width':2.4});});
const ya=mk(g,'line',{x1:219,y1:1728,x2:219,y2:2221,stroke:'#000','stroke-width':1.2});
clsYTicks.forEach(v=>{const tk=mk(g,'line',{x1:213,y1:Y(v),x2:219,y2:Y(v),stroke:'#000'});
const t=mk(g,'text',{x:198,y:Y(v)+17,'font-size':48,'text-anchor':'end'});t.textContent=v;});
const xa=mk(g,'line',{x1:283,y1:2272,x2:815,y2:2272,stroke:'#000','stroke-width':1.2});
clsXTicks.forEach(v=>{const tk=mk(g,'line',{x1:X(v),y1:2272,x2:X(v),y2:2265,stroke:'#000'});
const t=mk(g,'text',{x:X(v)+6,y:2327,'font-size':48,'text-anchor':'middle'});t.textContent=(v===1?'1':v.toFixed(1));});
const xl=mk(g,'text',{x:553,y:2387,'font-size':48,'font-style':'italic','text-anchor':'middle'});xl.textContent='minER';
const yl=mk(g,'text',{x:61,y:1983,'font-size':48,'font-style':'italic'});yl.textContent='SPR';
const lg=mk(g,'rect',{x:234,y:1935,width:179,height:114,fill:'#fff',stroke:'#000','stroke-width':1.5});
const l1=mk(g,'text',{x:239,y:1980,'font-size':46,fill:'#c4202e'});l1.textContent='seizure+';
const l2=mk(g,'text',{x:239,y:2037,'font-size':46,fill:'#000'});l2.textContent='seizure -';
const cb=mk(g,'rect',{x:883,y:1781,width:32,height:456,fill:'url(#cbgrad)'});
const CY=v=>1819+(4-v)*58.1;
cbTicks.forEach(v=>{const t=mk(g,'text',{x:v<0?917:928,y:CY(v)+17,'font-size':46});t.textContent=v;});
const st=mk(g,'text',{x:853,y:1772,'font-size':46});st.textContent='score';
})();

// ===== ARROWS =====
(function(){const g=document.getElementById('arrows');
[[423,215,423,287],[509,445,402,540],[577,445,685,540],[249,1000,249,1100],[721,1000,721,1100],[400,1550,508,1627],[683,1550,579,1627]].forEach(a=>{const [x1,y1,x2,y2]=a;const dx=x2-x1,dy=y2-y1,L=Math.hypot(dx,dy),ux=dx/L,uy=dy/L,hl=30,hw=12;const bx=x2-ux*hl,by=y2-uy*hl;
const ln=mk(g,'line',{x1:x1,y1:y1,x2:x2-ux*hl*0.6,y2:y2-uy*hl*0.6,stroke:'#000','stroke-width':3});

const hd=mk(g,'polygon',{points:`${x2},${y2} ${bx-uy*hw},${by+ux*hw} ${x2-ux*hl*0.6},${y2-uy*hl*0.6} ${bx+uy*hw},${by-ux*hw}`,fill:'#000'});
});
})();
</script>
</body></html>
